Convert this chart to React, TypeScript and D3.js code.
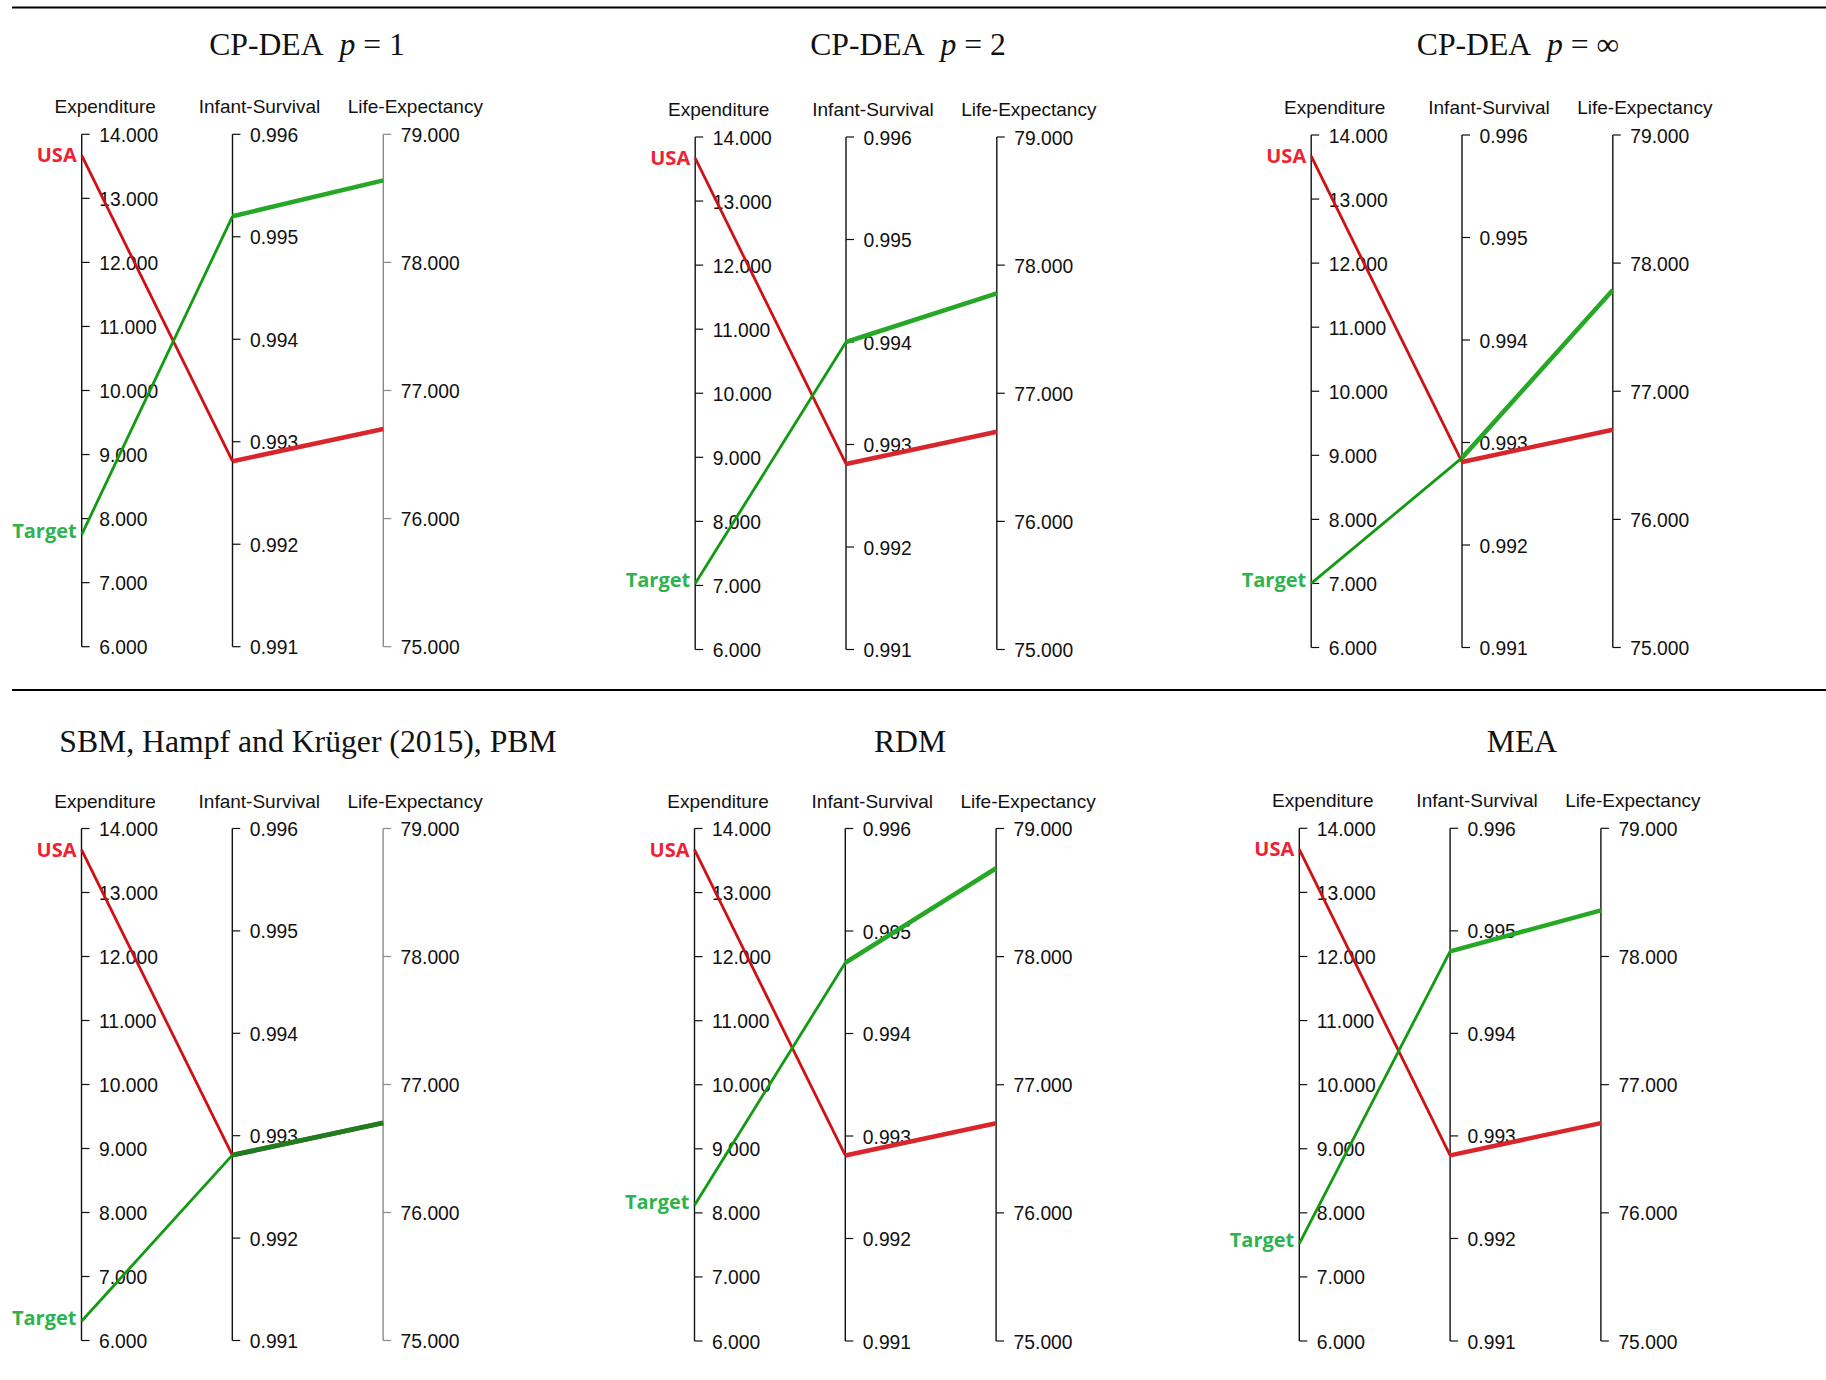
import React from "react";
import * as d3 from "d3";

// ---------- data ----------
const axisNames = ["Expenditure", "Infant-Survival", "Life-Expectancy"];
const expTicks = [6, 7, 8, 9, 10, 11, 12, 13, 14];
const infTicks = [0.991, 0.992, 0.993, 0.994, 0.995, 0.996];
const lifeTicks = [75, 76, 77, 78, 79];

const titleMain = ["CP-DEA", "CP-DEA", "CP-DEA", "SBM, Hampf and Krüger (2015), PBM", "RDM", "MEA"];
const titleP = ["1", "2", "∞", "", "", ""];

// original DMU (USA): expenditure, infant survival, life expectancy
const usaValues = [13.67, 0.99281, 76.7];

// projected targets per method
const targetExpenditure = [7.75, 7.03, 7.0, 6.3, 8.12, 7.52];
const targetInfant = [0.9952, 0.994, 0.99285, 0.99281, 0.99469, 0.9948];
const targetLife = [78.64, 77.78, 77.79, 76.7, 78.69, 78.36];

// ---------- layout ----------
const layout = [
  { x0: 81.7, top: 134.3, bottom: 646.7, tx: 307, ty: 55 },
  { x0: 695.2, top: 137, bottom: 649.5, tx: 908, ty: 55 },
  { x0: 1311.2, top: 135, bottom: 647.5, tx: 1518, ty: 55 },
  { x0: 81.5, top: 828.5, bottom: 1340.5, tx: 308, ty: 752 },
  { x0: 694.5, top: 828.5, bottom: 1341, tx: 910, ty: 752 },
  { x0: 1299.3, top: 828.3, bottom: 1341, tx: 1522, ty: 752 },
];
const axisGap = 150.8;
const headerOffsets = [23.5, 27, 32];
const sans = "'Liberation Sans', Arial, sans-serif";
const serif = "'Liberation Serif', 'Times New Roman', serif";
const labelFont = "'Open Sans', 'Noto Sans', sans-serif";

const RED1 = "#cf1015";
const RED2 = "#d8262c";
const GREEN1 = "#129a12";
const GREEN2 = "#26a826";
const GREEN2_DARK = "#1f7d1f";

function Panel({ i }: { i: number }) {
  const L = layout[i];
  const xs = [0, 1, 2].map((k) => L.x0 + k * axisGap);
  const yExp = d3.scaleLinear().domain([6, 14]).range([L.bottom, L.top]);
  const yInf = d3.scaleLinear().domain([0.991, 0.996]).range([L.bottom, L.top]);
  const yLife = d3.scaleLinear().domain([75, 79]).range([L.bottom, L.top]);
  const scales = [yExp, yInf, yLife];
  const ticks = [expTicks, infTicks, lifeTicks];
  const fmt = d3.format(".3f");
  const axisColors = i === 0 || i === 3 ? ["#111", "#111", "#8a8a8a"] : ["#111", "#111", "#111"];

  const usa = usaValues;
  const tgt = [targetExpenditure[i], targetInfant[i], targetLife[i]];
  const line = d3.line<[number, number]>().x((d) => d[0]).y((d) => d[1]);
  const pts = (v: number[]) => v.map((val, k) => [xs[k], scales[k](val)] as [number, number]);
  const usaPts = pts(usa);
  const tgtPts = pts(tgt);

  return (
    <g>
      {/* title */}
      <text x={L.tx} y={L.ty} textAnchor="middle" fontFamily={serif} fontSize={31.7} fill="#111">
        {titleMain[i]}
        {titleP[i] ? (
          <>
            <tspan>{"\u00a0\u00a0"}</tspan>
            <tspan fontStyle="italic">p</tspan>
            <tspan>{" = " + titleP[i]}</tspan>
          </>
        ) : null}
      </text>
      {/* axes */}
      {xs.map((x, k) => (
        <g key={k}>
          <text x={x + headerOffsets[k]} y={L.top - 21} textAnchor="middle" fontFamily={sans} fontSize={19} fill="#111">
            {axisNames[k]}
          </text>
          <line x1={x} x2={x} y1={L.top} y2={L.bottom} stroke={axisColors[k]} strokeWidth={1.4} />
          {ticks[k].map((t) => (
            <g key={t}>
              <line x1={x} x2={x + 8} y1={scales[k](t)} y2={scales[k](t)} stroke={axisColors[k]} strokeWidth={1.2} />
              <text x={x + 17.5} y={scales[k](t) + 7.5} fontFamily={sans} fontSize={19.3} fill="#111">
                {fmt(t)}
              </text>
            </g>
          ))}
        </g>
      ))}
      {/* USA line */}
      <path d={line(usaPts.slice(0, 2)) || ""} fill="none" stroke={RED1} strokeWidth={2.8} />
      <path d={line(usaPts.slice(1, 3)) || ""} fill="none" stroke={RED2} strokeWidth={4.5} />
      {/* Target line */}
      <path d={line(tgtPts.slice(0, 2)) || ""} fill="none" stroke={GREEN1} strokeWidth={2.8} />
      <path
        d={line(tgtPts.slice(1, 3)) || ""}
        fill="none"
        stroke={i === 3 ? GREEN2_DARK : GREEN2}
        strokeWidth={i === 3 ? 5 : 4.5}
      />
      {/* labels */}
      <text x={xs[0] - 5} y={usaPts[0][1] + 7} textAnchor="end" fontFamily={labelFont} fontWeight="bold" fontSize={20} fill="#ee2233">
        USA
      </text>
      <text x={xs[0] - 5} y={tgtPts[0][1] + 3.5} textAnchor="end" fontFamily={labelFont} fontWeight="bold" fontSize={20} fill="#2eb34f">
        Target
      </text>
    </g>
  );
}

export default function App() {
  return (
    <svg
      width={1826}
      height={1380}
      style={{ position: "absolute", left: 0, top: 0, background: "#fff" }}
    >
      <rect x={0} y={0} width={1826} height={1380} fill="#fff" />
      <line x1={12} x2={1826} y1={7.5} y2={7.5} stroke="#000" strokeWidth={2} />
      <line x1={12} x2={1826} y1={690} y2={690} stroke="#000" strokeWidth={2} />
      {layout.map((_, i) => (
        <Panel key={i} i={i} />
      ))}
    </svg>
  );
}
